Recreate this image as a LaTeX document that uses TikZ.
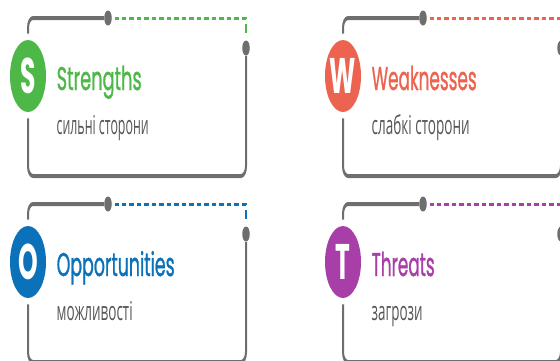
\documentclass[tikz,border=0pt]{standalone}
\usepackage{fontspec}
\usepackage{graphicx}
\newfontfamily\popfont{Poppins}
\newfontfamily\popmedfont[FakeBold=1.3]{Poppins}
\newfontfamily\osfont{Open Sans}
\definecolor{sgreen}{HTML}{4DB848}
\definecolor{wred}{HTML}{EC6350}
\definecolor{oblue}{HTML}{0B72B9}
\definecolor{tpurple}{HTML}{A83FA8}
\definecolor{framegray}{HTML}{6E6E6E}
\definecolor{subgray}{HTML}{555555}
\tikzset{
  cardframe/.style={draw=framegray, line width=2pt, rounded corners=5pt},
  dashline/.style={line width=1.5pt, dash pattern=on 4.5pt off 3pt, dash phase=0.75pt},
  dotnode/.style={circle, fill=framegray, inner sep=0pt, minimum size=7.5pt},
  badge/.style={circle, inner sep=0pt, minimum size=36pt, text=white,
    font=\popfont\bfseries\fontsize{25}{25}\selectfont},
  ttl/.style={anchor=base west, inner sep=0pt,
    font=\popmedfont\fontsize{16.4}{18}\selectfont},
  subttl/.style={anchor=base west, inner sep=0pt, text=subgray,
    font=\osfont\fontsize{13}{15}\selectfont},
}
% #1 x, #2 y, #3 colour, #4 letter, #5 title, #6 title width, #7 subtitle, #8 subtitle width, #9 prefix
\newcommand\swotcard[9]{%
  \begin{scope}[shift={(#1,#2)}]
    \node[badge, fill=#3] (#9c) at (28,38) {#4};
    \node[dotnode] (#9d1) at (108,9) {};
    \node[dotnode] (#9d2) at (246,24) {};
    \coordinate (#9bl) at (28,88);
    \node[ttl, text=#3] (#9t) at (56.5,45) {\resizebox{#6}{\height}{#5}};
    \node[subttl] (#9s) at (56.5,67) {\resizebox{#8}{\height}{#7}};
    \draw[cardframe] ([yshift=3pt]#9c.north) |- (#9d1.west);
    \draw[dashline, draw=#3] ([xshift=3pt]#9d1.east) -| ([yshift=2pt]#9d2.north);
    \draw[cardframe] (#9d2.south) |- (#9bl) -- ([yshift=-3pt]#9c.south);
  \end{scope}}
\begin{document}
\begin{tikzpicture}[x=1pt,y=-1pt]
  \useasboundingbox (0,0) rectangle (560,360);
  \begin{scope}[transform canvas={yscale=2}]
    \swotcard{0}{0}{sgreen}{S}{Strengths}{85pt}{сильні сторони}{92pt}{s}
    \swotcard{315}{0}{wred}{W}{Weaknesses}{105pt}{слабкі сторони}{98pt}{w}
    \swotcard{0}{93}{oblue}{O}{Opportunities}{118pt}{можливості}{76pt}{o}
    \swotcard{315}{93}{tpurple}{T}{Threats}{63pt}{загрози}{51pt}{t}
  \end{scope}
\end{tikzpicture}
\end{document}
